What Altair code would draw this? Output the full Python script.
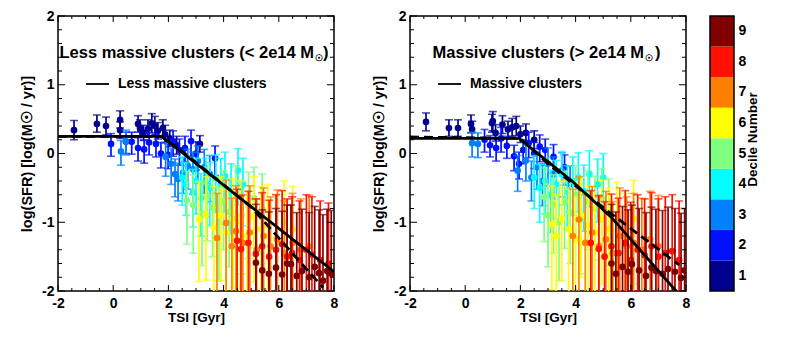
import altair as alt
import pandas as pd

FONT = "Liberation Sans"
DECILES = [1, 2, 3, 4, 5, 6, 7, 8, 9]
DECILE_COLORS = ["#00008f", "#0010ff", "#0080ff", "#00ffff", "#80ff80",
                 "#ffff00", "#ff8000", "#ff1000", "#800000"]

X_MAJOR = [-2, 0, 2, 4, 6, 8]
X_MINOR = [-1.5, -1, -0.5, 0.5, 1, 1.5, 2.5, 3, 3.5, 4.5, 5, 5.5, 6.5, 7, 7.5]
Y_MAJOR = [-2, -1, 0, 1, 2]
Y_MINOR = [-1.8, -1.6, -1.4, -1.2, -0.8, -0.6, -0.4, -0.2,
           0.2, 0.4, 0.6, 0.8, 1.2, 1.4, 1.6, 1.8]

# ---------------- Less massive clusters (per decile 1..9) ----------------
LESS_TSI = [
    [-1.42, -0.59, -0.26, 0.25, 0.25, 0.9, 0.97, 1.1, 1.26, 1.4, 1.51, 1.62, 1.8, 1.88, 2.05, 2.3, 3.14],
    [-0.08, 0.46, 0.67, 0.9, 1.12, 1.3, 1.55, 1.73, 1.99, 2.17, 2.4, 2.6, 2.82, 3.0, 3.69],
    [0.28, 0.46, 1.9, 2.1, 2.24, 2.35, 2.53, 2.7, 2.89, 3.07, 3.3, 3.5],
    [2.5, 2.64, 2.89, 3.0, 3.18, 3.35, 3.5, 3.72, 3.9, 4.05, 4.27, 4.52, 4.7],
    [2.67, 2.9, 3.22, 3.4, 3.6, 3.83, 4.0, 4.2, 4.45, 4.65, 4.9, 5.1, 5.4],
    [3.11, 3.36, 3.65, 3.9, 4.1, 4.35, 4.6, 4.85, 5.1, 5.35, 5.6, 5.9, 6.2, 6.5],
    [3.76, 4.09, 4.3, 4.45, 4.7, 4.95, 5.2, 5.45, 5.7, 5.95, 6.2, 6.5, 6.8, 7.1],
    [4.49, 4.63, 4.9, 5.17, 5.4, 5.65, 5.9, 6.12, 6.3, 6.48, 6.75, 7.0, 7.2, 7.5, 7.8],
    [5.17, 5.4, 5.64, 5.9, 6.12, 6.3, 6.44, 6.65, 6.84, 7.1, 7.3, 7.46, 7.6, 7.75, 7.9],
]
LESS_SFR = [
    [0.34, 0.43, 0.40, 0.49, 0.34, 0.43, 0.37, 0.30, 0.36, 0.44, 0.40, 0.33, 0.37, 0.28, 0.22, 0.12, 0.14],
    [0.14, 0.17, 0.17, 0.08, 0.06, 0.16, 0.14, 0.0, -0.02, 0.18, 0.05, 0.08, 0.18, 0.0, -0.07],
    [0.03, 0.18, -0.05, -0.15, -0.30, -0.37, -0.28, -0.18, -0.23, -0.11, -0.2, -0.3],
    [-0.35, -0.45, -0.57, -0.4, -0.65, -0.42, -0.50, -0.36, -0.45, -0.33, -0.55, -0.25, -0.45],
    [-0.68, -0.75, -0.88, -0.62, -0.78, -1.0, -0.7, -0.85, -0.6, -0.9, -0.75, -0.65, -0.8],
    [-0.96, -0.89, -1.08, -0.9, -1.15, -0.95, -1.0, -1.2, -0.92, -1.1, -1.05, -1.25, -1.0, -1.1],
    [-1.23, -1.01, -1.35, -1.13, -1.3, -1.15, -1.4, -1.2, -1.35, -1.25, -1.45, -1.3, -1.4, -1.35],
    [-1.27, -1.39, -1.3, -1.46, -1.35, -1.5, -1.4, -1.32, -1.5, -1.45, -1.55, -1.4, -1.47, -1.55, -1.6],
    [-1.59, -1.7, -1.75, -1.66, -1.76, -1.6, -1.61, -1.78, -1.71, -1.8, -1.65, -1.74, -1.85, -1.71, -1.75],
]
LESS_UP = [
    [0.14, 0.13, 0.13, 0.13, 0.12, 0.12, 0.12, 0.11, 0.13, 0.14, 0.14, 0.12, 0.12, 0.13, 0.12, 0.13, 0.12],
    [0.15, 0.14, 0.14, 0.15, 0.14, 0.15, 0.14, 0.16, 0.16, 0.15, 0.16, 0.17, 0.16, 0.17, 0.18],
    [0.16, 0.16, 0.2, 0.22, 0.22, 0.23, 0.22, 0.24, 0.25, 0.22, 0.26, 0.27],
    [0.3, 0.32, 0.34, 0.33, 0.36, 0.35, 0.37, 0.34, 0.38, 0.35, 0.4, 0.32, 0.38],
    [0.42, 0.44, 0.45, 0.42, 0.46, 0.5, 0.45, 0.48, 0.42, 0.5, 0.48, 0.45, 0.5],
    [0.55, 0.55, 0.6, 0.56, 0.62, 0.58, 0.6, 0.65, 0.58, 0.62, 0.6, 0.66, 0.6, 0.62],
    [0.65, 0.62, 0.7, 0.66, 0.7, 0.68, 0.74, 0.7, 0.72, 0.72, 0.76, 0.72, 0.74, 0.74],
    [0.75, 0.78, 0.75, 0.8, 0.78, 0.82, 0.8, 0.78, 0.84, 0.82, 0.86, 0.8, 0.84, 0.86, 0.88],
    [0.85, 0.88, 0.9, 0.86, 0.92, 0.85, 0.86, 0.92, 0.9, 0.94, 0.88, 0.92, 0.96, 0.9, 0.92],
]
LESS_DN = [
    [0.14, 0.12, 0.13, 0.12, 0.12, 0.12, 0.12, 0.11, 0.12, 0.14, 0.13, 0.12, 0.12, 0.12, 0.12, 0.13, 0.12],
    [0.18, 0.17, 0.18, 0.19, 0.2, 0.18, 0.19, 0.21, 0.2, 0.22, 0.22, 0.2, 0.22, 0.24, 0.25],
    [0.2, 0.2, 0.28, 0.3, 0.33, 0.32, 0.3, 0.34, 0.36, 0.32, 0.38, 0.4],
    [0.4, 0.45, 0.5, 0.48, 0.55, 0.5, 0.55, 0.5, 0.58, 0.52, 0.62, 0.5, 0.6],
    [0.64, 0.7, 0.75, 0.65, 0.72, 0.85, 0.7, 0.8, 0.65, 0.85, 0.78, 0.72, 0.8],
    [0.9, 0.95, 1.0, 0.95, 1.1, 1.0, 1.0, 1.2, 0.95, 1.1, 1.05, 1.3, 1.0, 1.1],
    [1.2, 1.1, 1.3, 1.2, 1.3, 1.2, 1.4, 1.25, 1.35, 1.3, 1.5, 1.3, 1.4, 1.4],
    [1.4, 1.5, 1.4, 1.6, 1.5, 1.6, 1.5, 1.5, 1.7, 1.6, 1.7, 1.6, 1.7, 1.8, 1.8],
    [1.6, 1.7, 1.8, 1.7, 1.8, 1.6, 1.6, 1.8, 1.7, 1.8, 1.7, 1.8, 1.9, 1.8, 1.8],
]
LESS_SOLID_TSI = [-2, 1.75, 8]
LESS_SOLID_SFR = [0.25, 0.25, -1.72]
LESS_DASH_TSI = [-2, 1.75, 2.6, 5.0, 7.6]
LESS_DASH_SFR = [0.25, 0.25, 0.0, -0.78, -1.95]

# ---------------- Massive clusters (per decile 1..9) ----------------
MASS_TSI = [
    [-1.42, -0.59, -0.26, 0.21, 0.25, 0.97, 1.0, 1.1, 1.35, 1.55, 1.7, 1.85, 2.0, 2.2, 2.5],
    [0.7, 0.9, 1.12, 1.3, 1.51, 1.77, 1.95, 2.1, 2.3, 2.5, 2.7, 2.9, 3.2, 3.6],
    [0.25, 0.46, 1.9, 2.2, 2.4, 2.6, 2.8, 3.0, 3.2, 3.5, 3.8],
    [2.5, 2.7, 2.9, 3.1, 3.3, 3.5, 3.7, 3.9, 4.1, 4.3, 4.5, 4.8, 5.0],
    [2.86, 3.0, 3.2, 3.4, 3.6, 3.8, 4.0, 4.2, 4.45, 4.7, 4.95, 5.2],
    [3.14, 3.3, 3.5, 3.75, 4.0, 4.2, 4.45, 4.7, 4.95, 5.2, 5.5, 5.8, 6.1],
    [3.9, 4.12, 4.35, 4.6, 4.85, 5.1, 5.35, 5.6, 5.85, 6.1, 6.4, 6.7, 7.0],
    [4.55, 4.84, 5.05, 5.3, 5.55, 5.8, 6.0, 6.25, 6.5, 6.75, 7.0, 7.25, 7.5, 7.75],
    [5.3, 5.46, 5.7, 5.9, 6.04, 6.3, 6.55, 6.75, 6.91, 7.15, 7.35, 7.6, 7.82, 7.95],
]
MASS_SFR = [
    [0.46, 0.37, 0.37, 0.43, 0.35, 0.44, 0.47, 0.30, 0.42, 0.35, 0.38, 0.40, 0.28, 0.30, 0.20],
    [0.2, 0.12, 0.08, 0.22, 0.11, -0.04, -0.15, 0.05, 0.15, 0.0, 0.1, 0.05, -0.05, -0.2],
    [0.15, 0.14, -0.25, -0.1, -0.35, -0.2, -0.4, -0.15, -0.3, -0.25, -0.45],
    [-0.35, -0.5, -0.4, -0.6, -0.45, -0.3, -0.55, -0.4, -0.35, -0.55, -0.3, -0.45, -0.35],
    [-0.63, -0.9, -0.75, -1.0, -0.7, -0.85, -0.6, -0.95, -0.7, -0.8, -0.65, -0.85],
    [-1.03, -1.2, -0.95, -1.1, -1.25, -0.9, -1.05, -1.15, -0.95, -1.1, -1.0, -1.2, -0.95],
    [-1.2, -0.96, -1.3, -1.15, -1.35, -1.25, -1.45, -1.2, -1.35, -1.3, -1.4, -1.25, -1.35],
    [-1.3, -1.39, -1.5, -1.35, -1.45, -1.3, -1.55, -1.4, -1.48, -1.35, -1.5, -1.45, -1.42, -1.55],
    [-1.6, -1.75, -1.65, -1.72, -1.61, -1.7, -1.78, -1.66, -1.71, -1.75, -1.68, -1.72, -1.81, -1.7],
]
MASS_UP = [
    [0.13, 0.12, 0.12, 0.13, 0.12, 0.13, 0.14, 0.12, 0.13, 0.12, 0.13, 0.14, 0.12, 0.13, 0.13],
    [0.15, 0.14, 0.15, 0.16, 0.14, 0.16, 0.17, 0.15, 0.16, 0.16, 0.17, 0.16, 0.18, 0.18],
    [0.16, 0.16, 0.22, 0.22, 0.24, 0.23, 0.25, 0.23, 0.25, 0.26, 0.27],
    [0.32, 0.34, 0.33, 0.36, 0.35, 0.33, 0.37, 0.35, 0.36, 0.38, 0.34, 0.37, 0.35],
    [0.42, 0.46, 0.44, 0.5, 0.44, 0.47, 0.42, 0.5, 0.45, 0.47, 0.43, 0.48],
    [0.56, 0.6, 0.55, 0.58, 0.62, 0.55, 0.58, 0.6, 0.56, 0.6, 0.58, 0.62, 0.56],
    [0.68, 0.62, 0.7, 0.67, 0.72, 0.7, 0.75, 0.7, 0.72, 0.72, 0.75, 0.7, 0.74],
    [0.76, 0.78, 0.8, 0.76, 0.8, 0.76, 0.84, 0.8, 0.82, 0.78, 0.84, 0.82, 0.82, 0.86],
    [0.86, 0.9, 0.88, 0.9, 0.86, 0.9, 0.92, 0.88, 0.9, 0.92, 0.9, 0.92, 0.94, 0.9],
]
MASS_DN = [
    [0.13, 0.12, 0.12, 0.13, 0.12, 0.13, 0.14, 0.12, 0.13, 0.12, 0.13, 0.14, 0.12, 0.13, 0.13],
    [0.18, 0.17, 0.19, 0.2, 0.18, 0.21, 0.22, 0.2, 0.21, 0.22, 0.22, 0.22, 0.24, 0.26],
    [0.2, 0.2, 0.3, 0.3, 0.34, 0.32, 0.36, 0.32, 0.36, 0.38, 0.4],
    [0.45, 0.5, 0.48, 0.55, 0.5, 0.45, 0.55, 0.5, 0.5, 0.58, 0.48, 0.55, 0.5],
    [0.65, 0.75, 0.7, 0.85, 0.68, 0.75, 0.62, 0.8, 0.7, 0.75, 0.65, 0.78],
    [0.95, 1.05, 0.9, 1.0, 1.1, 0.9, 1.0, 1.05, 0.95, 1.0, 1.0, 1.1, 0.95],
    [1.2, 1.1, 1.3, 1.2, 1.3, 1.25, 1.4, 1.2, 1.35, 1.3, 1.4, 1.3, 1.35],
    [1.4, 1.5, 1.6, 1.5, 1.6, 1.4, 1.7, 1.5, 1.6, 1.5, 1.7, 1.6, 1.6, 1.7],
    [1.6, 1.8, 1.7, 1.8, 1.6, 1.7, 1.8, 1.7, 1.7, 1.8, 1.7, 1.8, 1.9, 1.8],
]
MASS_SOLID_TSI = [-2, 1.95, 3.87, 5.3, 7.64, 8]
MASS_SOLID_SFR = [0.22, 0.22, -0.40, -0.93, -2.0, -2.16]
MASS_DASH_TSI = [-2, 2.0, 3.0, 4.0, 5.3, 7.75]
MASS_DASH_SFR = [0.24, 0.22, -0.15, -0.47, -0.88, -1.62]

W, H = 276, 275
CB_GAP, CB_W = 24, 24


def points_df(tsi, sfr, up, dn):
    rows = []
    for d, (xs, ys, us, ls) in enumerate(zip(tsi, sfr, up, dn), start=1):
        n = min(len(xs), len(ys), len(us), len(ls))
        for i in range(n):
            rows.append({"tsi": xs[i], "sfr": ys[i], "hi": ys[i] + us[i],
                         "lo": ys[i] - ls[i], "dec": d})
    return pd.DataFrame(rows)


color = alt.Color("dec:O", scale=alt.Scale(domain=DECILES, range=DECILE_COLORS), legend=None)


def text_layer(txt, x, y, size, align="left", baseline="middle"):
    return alt.Chart(pd.DataFrame({"t": [txt]})).mark_text(
        font=FONT, fontWeight="bold", fontSize=size, color="black",
        align=align, baseline=baseline).encode(
        x=alt.value(x), y=alt.value(y), text="t:N")


def panel(df, sx, sy, dx, dy, title_main, title_pos, leg):
    xs = alt.Scale(domain=[-2, 8], nice=False, zero=False)
    ys = alt.Scale(domain=[-2, 2], nice=False, zero=False)
    xax = alt.Axis(title="TSI [Gyr]", values=X_MAJOR, labelExpr="'' + datum.value",
                   ticks=False, domain=False, grid=False, labelFlush=False,
                   labelPadding=5, titlePadding=0)
    yax = alt.Axis(title="log(SFR) [log(M☉ / yr)]", values=Y_MAJOR,
                   labelExpr="'' + datum.value", ticks=False, domain=False,
                   grid=False, labelFlush=False, labelPadding=4, titlePadding=7,
                   titleFontSize=14.5)

    def X(f):
        return alt.X(f, type="quantitative", scale=xs, axis=xax)

    def Y(f):
        return alt.Y(f, type="quantitative", scale=ys, axis=yax)

    base = alt.Chart(df)
    layers = []
    for d in DECILES:
        sub = base.transform_filter(alt.datum.dec == d)
        layers.append(sub.mark_rule(strokeWidth=1.7, clip=True).encode(
            x=X("tsi"), y=Y("lo"), y2="hi", color=color))
        layers.append(sub.mark_tick(orient="horizontal", size=8, thickness=1.6, clip=True).encode(
            x=X("tsi"), y=Y("hi"), color=color))
        layers.append(sub.mark_tick(orient="horizontal", size=8, thickness=1.6, clip=True).encode(
            x=X("tsi"), y=Y("lo"), color=color))
        layers.append(sub.mark_circle(size=44, opacity=1, clip=True).encode(
            x=X("tsi"), y=Y("sfr"), color=color))

    solid = pd.DataFrame({"tsi": sx, "sfr": sy, "i": range(len(sx))})
    dash = pd.DataFrame({"tsi": dx, "sfr": dy, "i": range(len(dx))})
    layers.append(alt.Chart(dash).mark_line(color="black", strokeWidth=2.8, strokeDash=[9, 5], clip=True).encode(
        x=X("tsi"), y=Y("sfr"), order="i:Q"))
    layers.append(alt.Chart(solid).mark_line(color="black", strokeWidth=2.8, clip=True).encode(
        x=X("tsi"), y=Y("sfr"), order="i:Q"))

    xmaj = pd.DataFrame({"v": X_MAJOR})
    xmin = pd.DataFrame({"v": X_MINOR})
    ymaj = pd.DataFrame({"v": Y_MAJOR})
    ymin = pd.DataFrame({"v": Y_MINOR})
    for tdf, L in ((xmaj, 6), (xmin, 3)):
        layers.append(alt.Chart(tdf).mark_rule(color="black", strokeWidth=1).encode(
            x=X("v"), y=alt.value(H), y2=alt.value(H - L)))
        layers.append(alt.Chart(tdf).mark_rule(color="black", strokeWidth=1).encode(
            x=X("v"), y=alt.value(0), y2=alt.value(L)))
    for tdf, L in ((ymaj, 7), (ymin, 4)):
        layers.append(alt.Chart(tdf).mark_rule(color="black", strokeWidth=1).encode(
            y=Y("v"), x=alt.value(0), x2=alt.value(L)))
        layers.append(alt.Chart(tdf).mark_rule(color="black", strokeWidth=1).encode(
            y=Y("v"), x=alt.value(W), x2=alt.value(W - L)))

    # panel title: main text ending in "M", a small subscript sun symbol, closing ")"
    mx, sunx, parx = title_pos
    layers.append(text_layer(title_main, mx, 37, 16.5, align="right"))
    layers.append(text_layer("☉", sunx, 42, 9, align="center"))
    layers.append(text_layer(")", parx, 37, 16.5, align="left"))

    ldf = pd.DataFrame({"t": [leg]})
    layers.append(alt.Chart(ldf).mark_rule(color="black", strokeWidth=1.8).encode(
        x=alt.value(28), x2=alt.value(51), y=alt.value(68)))
    layers.append(text_layer(leg, 60, 68, 14, align="left"))
    return alt.layer(*layers)


def colorbar():
    cdf = pd.DataFrame({"dec": DECILES})
    cells = alt.Chart(cdf).mark_rect().encode(
        y=alt.Y("dec:O", sort="descending",
                scale=alt.Scale(paddingInner=0, paddingOuter=0),
                axis=alt.Axis(orient="right", offset=CB_GAP + CB_W, title="Decile Number",
                              ticks=False, domain=False, grid=False, labelAngle=0,
                              labelPadding=4, titleAngle=270, titleX=18, titleY=123,
                              titleAlign="center", titleBaseline="middle")),
        x=alt.value(W + CB_GAP), x2=alt.value(W + CB_GAP + CB_W),
        color=color,
    )
    frame = alt.Chart(pd.DataFrame({"k": [0]})).mark_rect(
        fillOpacity=0, stroke="black", strokeWidth=1.5).encode(
        x=alt.value(W + CB_GAP), x2=alt.value(W + CB_GAP + CB_W),
        y=alt.value(0), y2=alt.value(H))
    return alt.layer(cells, frame)


left = panel(points_df(LESS_TSI, LESS_SFR, LESS_UP, LESS_DN),
             LESS_SOLID_TSI, LESS_SOLID_SFR, LESS_DASH_TSI, LESS_DASH_SFR,
             "Less massive clusters (< 2e14 M", (256, 261, 265), "Less massive clusters"
             ).properties(width=W, height=H)
right = alt.layer(
    panel(points_df(MASS_TSI, MASS_SFR, MASS_UP, MASS_DN),
          MASS_SOLID_TSI, MASS_SOLID_SFR, MASS_DASH_TSI, MASS_DASH_SFR,
          "Massive clusters (> 2e14 M", (234, 239, 245), "Massive clusters"),
    colorbar(),
).resolve_scale(y="independent").resolve_axis(y="independent").properties(width=W, height=H)

chart = alt.hconcat(left, right, spacing=31).properties(
    padding={"left": 10, "top": 0, "right": 5, "bottom": 5}
).configure_view(stroke="black", strokeWidth=1.5).configure_axis(
    labelFont=FONT, labelFontWeight="bold", labelFontSize=14, labelColor="black",
    titleFont=FONT, titleFontWeight="bold", titleFontSize=13.5, titleColor="black"
)

chart.save("out.html", embed_options={"renderer": "svg", "actions": False})
